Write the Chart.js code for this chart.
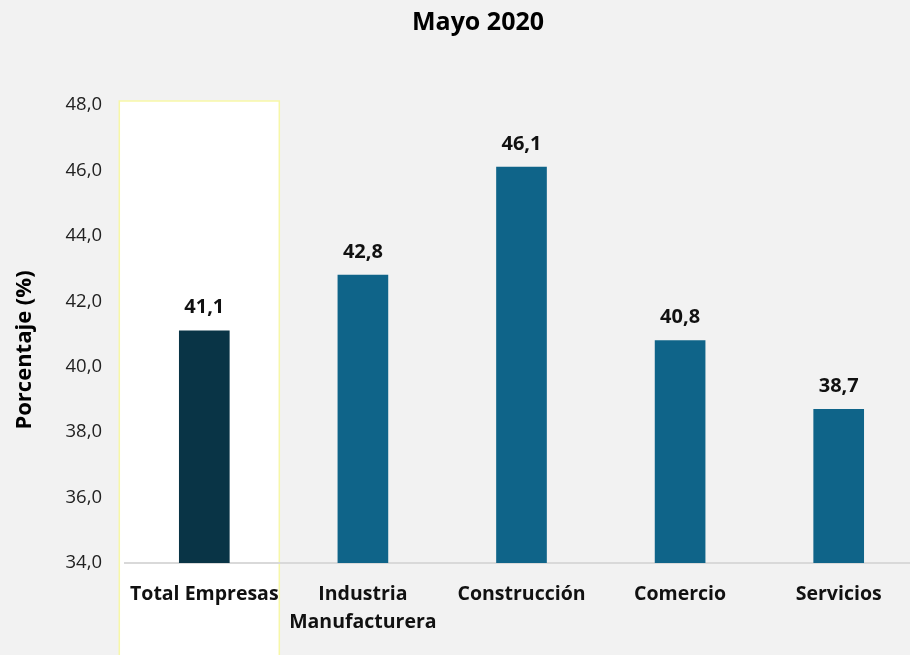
<!DOCTYPE html>
<html>
<head>
  <meta charset="utf-8">
  <title>Mayo 2020</title>
  <script src="https://cdn.jsdelivr.net/npm/chart.js@4.4.0/dist/chart.umd.min.js"></script>
  <style>
    body { margin: 0; overflow: hidden; background: #f2f2f2; }
  </style>
</head>
<body>
  <div style="position: relative; width:918px; height:655px;">
    <canvas id="bars" width="918" height="655"></canvas>
  </div>
  <script>
    var chartTitle = "Mayo 2020";
    var axisTitle = "Porcentaje (%)";
    var categories = ["Total Empresas", ["Industria", "Manufacturera"], "Construcción", "Comercio", "Servicios"];
    var values = [41.1, 42.8, 46.1, 40.8, 38.7];
    var barColors = ["#093446", "#0f6489", "#0f6489", "#0f6489", "#0f6489"];
    var yMin = 34, yMax = 48, yStep = 2;

    var fontFam = "'Open Sans', 'Noto Sans', sans-serif";

    function coma(v) {
      return v.toFixed(1).replace(".", ",");
    }

    // white highlight box behind the first category, plus titles
    var extras = {
      id: "extras",
      beforeDraw: function(chart) {
        var ctx = chart.ctx;
        var x0 = chart.scales.x.getPixelForValue(0);
        var top = chart.scales.y.getPixelForValue(yMax) - 4;
        ctx.save();
        ctx.fillStyle = "#ffffff";
        ctx.fillRect(x0 - 85, top, 160, chart.height - top + 5);
        ctx.strokeStyle = "#f7f7a8";
        ctx.lineWidth = 1.5;
        ctx.strokeRect(x0 - 85, top, 160, chart.height - top + 5);
        ctx.restore();
      },
      afterDraw: function(chart) {
        var ctx = chart.ctx;
        ctx.save();
        ctx.fillStyle = "#000";
        ctx.textAlign = "center";
        ctx.textBaseline = "middle";
        ctx.font = "bold 25px " + fontFam;
        ctx.fillText(chartTitle, 478, 23);

        ctx.translate(25, 350);
        ctx.rotate(-Math.PI / 2);
        ctx.font = "bold 22px " + fontFam;
        ctx.fillText(axisTitle, 0, 0);
        ctx.restore();

        // value labels
        ctx.save();
        ctx.fillStyle = "#111";
        ctx.textAlign = "center";
        ctx.textBaseline = "middle";
        ctx.font = "bold 20px " + fontFam;
        chart.getDatasetMeta(0).data.forEach(function(bar, i) {
          ctx.fillText(coma(values[i]), bar.x, bar.y - 23);
        });
        ctx.restore();
      }
    };

    new Chart(document.getElementById("bars"), {
      type: "bar",
      data: {
        labels: categories,
        datasets: [{
          data: values,
          backgroundColor: barColors,
          barThickness: 50
        }]
      },
      plugins: [extras],
      options: {
        responsive: false,
        animation: false,
        layout: { padding: { top: 105, right: 0, left: 0, bottom: 0 } },
        plugins: {
          legend: { display: false },
          tooltip: { enabled: false }
        },
        scales: {
          x: {
            grid: { display: false, drawTicks: false },
            border: { display: true, color: "#d9d9d9", width: 2 },
            ticks: {
              color: "#111",
              padding: 17,
              maxRotation: 0,
              autoSkip: false,
              font: { family: fontFam, size: 19.5, weight: "bold", lineHeight: 1.45 }
            },
            afterFit: function(scale) { scale.height = 92; }
          },
          y: {
            min: yMin,
            max: yMax,
            grid: { display: false, drawTicks: false },
            border: { display: false },
            ticks: {
              stepSize: yStep,
              color: "#222",
              padding: 23,
              font: { family: fontFam, size: 18.5 },
              callback: function(v) { return coma(v); }
            },
            afterFit: function(scale) { scale.width = 125; }
          }
        }
      }
    });
  </script>
</body>
</html>
